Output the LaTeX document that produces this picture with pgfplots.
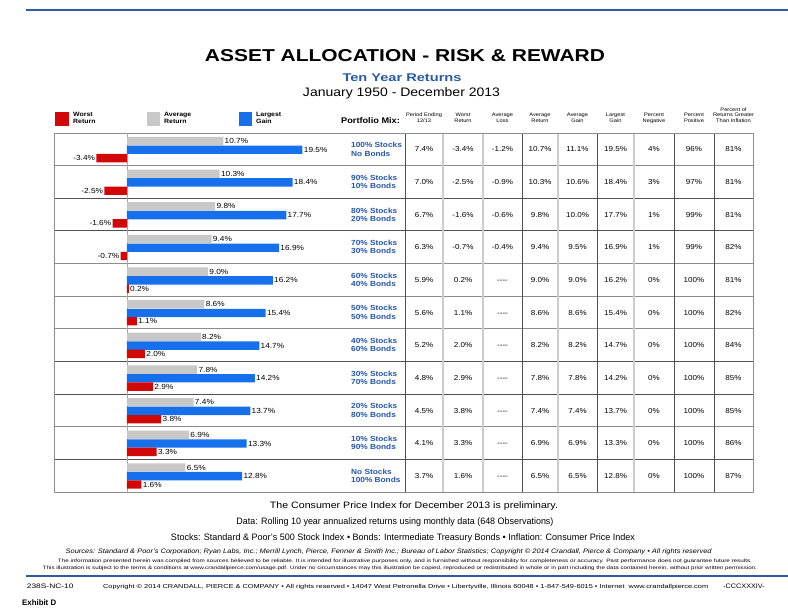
\documentclass[border=0pt]{standalone}
\usepackage{pgfplots}
\pgfplotsset{compat=1.18}
\usepackage{graphicx}
\usepackage{fontspec}
\setmainfont{Liberation Sans}[FakeStretch=1.12]
\definecolor{cred}{RGB}{210,8,8}
\definecolor{cgray}{RGB}{200,200,200}
\definecolor{cblue}{RGB}{22,112,236}
\definecolor{cmix}{RGB}{35,85,170}
\definecolor{ctitleblue}{RGB}{40,90,165}
\definecolor{cline}{RGB}{50,90,160}
\definecolor{gdark}{RGB}{80,80,80}
\definecolor{gmed}{RGB}{140,140,140}
\definecolor{glight}{RGB}{205,205,205}
\newcommand\fs[1]{\fontsize{#1}{#1}\selectfont}
\newcommand\fitw[2]{\resizebox{#1}{\height}{#2}}
\begin{document}
\begin{tikzpicture}
\useasboundingbox (0,0) rectangle (788pt,-610pt);
\begin{scope}[x=1pt,y=-1pt]
% top and bottom rules
\draw[cline, line width=2pt] (26,10) -- (788,10);
\draw[cline, line width=2.5pt] (26,576) -- (788,576);
% titles
\node[inner sep=0, anchor=center] at (405,56) {\fitw{400pt}{\fs{17.2}\bfseries ASSET ALLOCATION - RISK \& REWARD}};
\node[inner sep=0, anchor=base, text=ctitleblue] at (402,81.7) {\fitw{119pt}{\fs{11.2}\bfseries Ten Year Returns}};
\node[inner sep=0, anchor=base] at (401.5,96.7) {\fitw{197pt}{\fs{12.3}January 1950 - December 2013}};
% legend
\fill[cred] (55,112) rectangle (69,126);
\fill[cgray] (147,112) rectangle (160,126);
\fill[cblue] (239,112) rectangle (252,126);
\foreach \xx/\la/\lb in {73/Worst/Return, 164/Average/Return, 256/Largest/Gain}{
  \node[inner sep=0, anchor=base west] at (\xx,116.6) {\fs{6.2}\bfseries \la};
  \node[inner sep=0, anchor=base west] at (\xx,123.4) {\fs{6.2}\bfseries \lb};
}
\node[inner sep=0, anchor=base west] at (341,123.3) {\fs{8.2}\bfseries Portfolio Mix:};
% column headers
\foreach \cx/\la/\lb in {424/Period Ending/{12/13}, 463/Worst/Return, 502.5/Average/Loss, 540/Average/Return, 577.5/Average/Gain, 615.5/Largest/Gain, 654/Percent/Negative, 694/Percent/Positive, 733.5/Returns Greater/Than Inflation}{
  \node[inner sep=0, anchor=base] at (\cx,116.8) {\fs{5.1}\la};
  \node[inner sep=0, anchor=base] at (\cx,122) {\fs{5.1}\lb};
}
\node[inner sep=0, anchor=base] at (733.5,111.6) {\fs{5.1}Percent of};
% grid
\foreach \k in {1,4,5,6,9} \draw[gmed, line width=0.8pt] (54,{133+32.64*\k}) -- (753,{133+32.64*\k});
\foreach \k in {2,3,7,8,10} \draw[gdark, line width=0.9pt] (54,{133+32.64*\k}) -- (753,{133+32.64*\k});
\foreach \xx in {443,483,558,634} \draw[glight, line width=1.2pt] (\xx,133) -- (\xx,492);
\foreach \xx in {405,522,597,674,714} \draw[gdark, line width=0.9pt] (\xx,133) -- (\xx,492);
\draw[gmed, line width=1pt] (54,133) rectangle (753,492);
\draw[gray!70, line width=1pt] (127,133) -- (127,493);
% mix labels
\foreach \r/\la/\lb in {1/100\% Stocks/No Bonds, 2/90\% Stocks/10\% Bonds, 3/80\% Stocks/20\% Bonds, 4/70\% Stocks/30\% Bonds, 5/60\% Stocks/40\% Bonds, 6/50\% Stocks/50\% Bonds, 7/40\% Stocks/60\% Bonds, 8/30\% Stocks/70\% Bonds, 9/20\% Stocks/80\% Bonds, 10/10\% Stocks/90\% Bonds, 11/No Stocks/100\% Bonds}{
  \pgfmathsetmacro\rc{133+32.64*(\r-0.5)}
  \node[inner sep=0, anchor=base west, text=cmix] at (351,\rc-1.6) {\fs{7.4}\bfseries \la};
  \node[inner sep=0, anchor=base west, text=cmix] at (351,\rc+6.7) {\fs{7.4}\bfseries \lb};
}
% table values
\foreach \r/\va/\vb/\vc/\vd/\ve/\vf/\vg/\vh/\vi in {
 1/7.4\%/-3.4\%/-1.2\%/10.7\%/11.1\%/19.5\%/4\%/96\%/81\%,
 2/7.0\%/-2.5\%/-0.9\%/10.3\%/10.6\%/18.4\%/3\%/97\%/81\%,
 3/6.7\%/-1.6\%/-0.6\%/9.8\%/10.0\%/17.7\%/1\%/99\%/81\%,
 4/6.3\%/-0.7\%/-0.4\%/9.4\%/9.5\%/16.9\%/1\%/99\%/82\%,
 5/5.9\%/0.2\%/-{}-{}-{}-/9.0\%/9.0\%/16.2\%/0\%/100\%/81\%,
 6/5.6\%/1.1\%/-{}-{}-{}-/8.6\%/8.6\%/15.4\%/0\%/100\%/82\%,
 7/5.2\%/2.0\%/-{}-{}-{}-/8.2\%/8.2\%/14.7\%/0\%/100\%/84\%,
 8/4.8\%/2.9\%/-{}-{}-{}-/7.8\%/7.8\%/14.2\%/0\%/100\%/85\%,
 9/4.5\%/3.8\%/-{}-{}-{}-/7.4\%/7.4\%/13.7\%/0\%/100\%/85\%,
 10/4.1\%/3.3\%/-{}-{}-{}-/6.9\%/6.9\%/13.3\%/0\%/100\%/86\%,
 11/3.7\%/1.6\%/-{}-{}-{}-/6.5\%/6.5\%/12.8\%/0\%/100\%/87\%}{
  \pgfmathsetmacro\yb{133+32.64*(\r-0.5)+2.6}
  \node[inner sep=0, anchor=base] at (424,\yb) {\fs{7.2}\va};
  \node[inner sep=0, anchor=base] at (463,\yb) {\fs{7.2}\vb};
  \node[inner sep=0, anchor=base] at (502.5,\yb) {\fs{7.2}\vc};
  \node[inner sep=0, anchor=base] at (540,\yb) {\fs{7.2}\vd};
  \node[inner sep=0, anchor=base] at (577.5,\yb) {\fs{7.2}\ve};
  \node[inner sep=0, anchor=base] at (615.5,\yb) {\fs{7.2}\vf};
  \node[inner sep=0, anchor=base] at (654,\yb) {\fs{7.2}\vg};
  \node[inner sep=0, anchor=base] at (694,\yb) {\fs{7.2}\vh};
  \node[inner sep=0, anchor=base] at (733.5,\yb) {\fs{7.2}\vi};
}
% footnotes
\node[inner sep=0, anchor=base] at (414,508.3) {\fitw{288pt}{\fs{9.3}The Consumer Price Index for December 2013 is preliminary.}};
\node[inner sep=0, anchor=base] at (395,524) {\fitw{317pt}{\fs{9.3}Data: Rolling 10 year annualized returns using monthly data (648 Observations)}};
\node[inner sep=0, anchor=base] at (403,540) {\fitw{464pt}{\fs{9.3}Stocks: Standard \& Poor's 500 Stock Index \textbullet{} Bonds: Intermediate Treasury Bonds \textbullet{} Inflation: Consumer Price Index}};
\node[inner sep=0, anchor=base] at (388.7,553) {\fitw{646pt}{\fs{6.5}\itshape Sources: Standard \& Poor's Corporation; Ryan Labs, Inc.; Merrill Lynch, Pierce, Fenner \& Smith Inc.; Bureau of Labor Statistics; Copyright \textcopyright{} 2014 Crandall, Pierce \& Company \textbullet{} All rights reserved}};
\node[inner sep=0, anchor=base] at (405,562.8) {\fitw{694pt}{\fs{4.8}The information presented herein was compiled from sources believed to be reliable. It is intended for illustrative purposes only, and is furnished without responsibility for completeness or accuracy. Past performance does not guarantee future results.}};
\node[inner sep=0, anchor=base] at (400,569.5) {\fitw{714pt}{\fs{4.8}This illustration is subject to the terms \& conditions at www.crandallpierce.com/usage.pdf. Under no circumstances may this illustration be copied, reproduced or redistributed in whole or in part including the data contained herein, without prior written permission.}};
\node[inner sep=0, anchor=base west] at (26.7,588) {\fitw{46.6pt}{\fs{6.5}238S-NC-10}};
\node[inner sep=0, anchor=base] at (405.7,588) {\fitw{605pt}{\fs{5.8}Copyright \textcopyright{} 2014 CRANDALL, PIERCE \& COMPANY \textbullet{} All rights reserved \textbullet{} 14047 West Petronella Drive \textbullet{} Libertyville, Illinois 60048 \textbullet{} 1-847-549-6015 \textbullet{} Internet\ \ www.crandallpierce.com}};
\node[inner sep=0, anchor=base west] at (723,588) {\fs{6.5}-CCCXXXIV-};
\node[inner sep=0, anchor=base west] at (22,605.5) {\fitw{34pt}{\fs{8}\bfseries Exhibit D}};
\end{scope}
\begin{axis}[
  at={(54pt,-492pt)}, anchor=south west,
  x=9pt, y=32.64pt,
  xmin=-8.111, xmax=30.889, ymin=-0.5, ymax=10.5,
  hide axis, clip=false,
  bar width=8.4pt,
  point meta=x,
  nodes near coords={\pgfmathprintnumber[fixed,fixed zerofill,precision=1,assume math mode=true]{\pgfplotspointmeta}\%},
  nodes near coords align=horizontal,
  every node near coord/.append style={font=\fs{7.4}, inner sep=1.2pt, text=black},
]
\addplot[xbar, bar shift=8.2pt, fill=cgray, draw=none,
  every node near coord/.append style={yshift=8.2pt}] coordinates {
 (10.7,10) (10.3,9) (9.8,8) (9.4,7) (9.0,6) (8.6,5) (8.2,4) (7.8,3) (7.4,2) (6.9,1) (6.5,0)};
\addplot[xbar, bar shift=-0.5pt, fill=cblue, draw=none,
  every node near coord/.append style={yshift=-0.5pt}] coordinates {
 (19.5,10) (18.4,9) (17.7,8) (16.9,7) (16.2,6) (15.4,5) (14.7,4) (14.2,3) (13.7,2) (13.3,1) (12.8,0)};
\addplot[xbar, bar shift=-8.8pt, fill=cred, draw=none,
  every node near coord/.append style={yshift=-8.8pt}] coordinates {
 (-3.4,10) (-2.5,9) (-1.6,8) (-0.7,7) (0.2,6) (1.1,5) (2.0,4) (2.9,3) (3.8,2) (3.3,1) (1.6,0)};
\end{axis}
\end{tikzpicture}
\end{document}
